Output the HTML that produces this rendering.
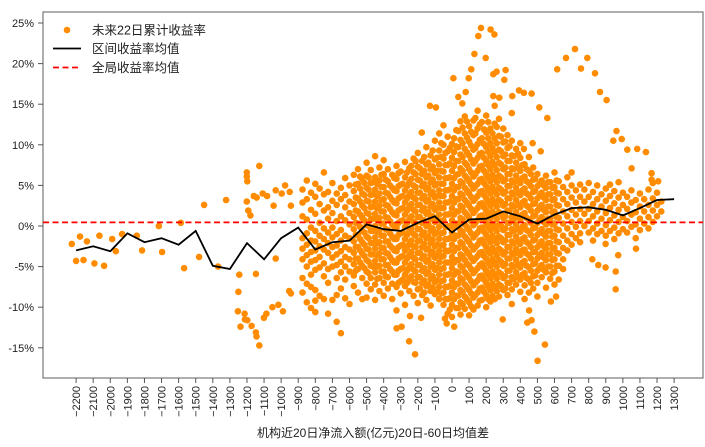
<!DOCTYPE html>
<html><head><meta charset="utf-8"><style>
html,body{margin:0;padding:0;background:#fff;}
svg{display:block;font-family:"Liberation Sans","Noto Sans CJK SC",sans-serif;}
</style></head><body>
<svg id="chart" width="705" height="447" viewBox="0 0 705 447" xmlns="http://www.w3.org/2000/svg">
<rect x="43" y="12" width="660" height="366" fill="#fff" stroke="#777" stroke-width="1.2"/>
<g id="points"></g>
<g id="lines"></g>
<g id="yticks"></g>
<g id="xticks"></g>
<text x="373" y="437" font-size="12" text-anchor="middle" fill="#222">机构近20日净流入额(亿元)20日-60日均值差</text>
<g>
<circle cx="67" cy="30" r="3.3" fill="#ff8c00"/>
<text x="92" y="34.5" font-size="12.5" fill="#222">未来22日累计收益率</text>
<line x1="53" y1="48.5" x2="81" y2="48.5" stroke="#000" stroke-width="1.8"/>
<text x="92" y="53" font-size="12.5" fill="#222">区间收益率均值</text>
<line x1="53" y1="67.5" x2="81" y2="67.5" stroke="#f00" stroke-width="1.8" stroke-dasharray="6,3.5"/>
<text x="92" y="72" font-size="12.5" fill="#222">全局收益率均值</text>
</g>
</svg>
<script>
const xTicks=[-2200,-2100,-2000,-1900,-1800,-1700,-1600,-1500,-1400,-1300,-1200,-1100,-1000,-900,-800,-700,-600,-500,-400,-300,-200,-100,0,100,200,300,400,500,600,700,800,900,1000,1100,1200,1300];
const yTicks=[25,20,15,10,5,0,-5,-10,-15];
const binX=[-2200,-2100,-2000,-1900,-1800,-1700,-1600,-1500,-1400,-1300,-1200,-1100,-1000,-900,-800,-700,-600,-500,-400,-300,-200,-100,0,100,200,300,400,500,600,700,800,900,1000,1100,1200,1300];
const binMean=[-3.0,-2.5,-3.1,-0.9,-2.0,-1.5,-2.3,-0.6,-4.9,-5.3,-2.1,-4.1,-1.5,-0.2,-2.9,-2.0,-1.8,0.2,-0.4,-0.6,0.4,1.2,-0.8,0.8,0.9,1.8,1.2,0.3,1.4,2.2,2.3,2.0,1.3,2.2,3.2,3.3];
const globalMean=0.45;
const outliers="-2225,-2.2;-2177,-1.3;-2200,-4.3;-2157,-4.2;-2137,-1.9;-2093,-4.6;-2064,-1.2;-2036,-4.9;-1989,-1.6;-1968,-3.1;-1931,-1.0;-1845,-1.2;-1814,-3.0;-1716,0;-1697,-3.2;-1587,0.4;-1568,-5.2;-1480,-3.8;-1451,2.6;-1369,-5.0;-1322,3.2;-1245,-6.0;-1250,-8.1;-1253,-10.5;-1238,-12.4;-1214,-10.8;-1198,-11.6;-1212,-11.5;-1173,-12.3;-1148,-13.1;-1144,-13.6;-1128,-14.7;-1148,-5.9;-1201,6.6;-1201,6.1;-1198,5.5;-1201,3.0;-1192,1.9;-1180,1.3;-1128,7.4;-1160,3.7;-1143,3.5;-1108,4.0;-1082,3.7;-1101,-11.3;-1086,-10.8;-1044,2.5;-1032,4.4;-1032,-4.0;-1051,-10.0;-1016,-9.7;-990,-10.5;-997,4.0;-977,5.0;-950,4.2;-943,2.5;-953,-8.0;-943,-8.3;170,24.4;226,24.2;248,23.6;154,23.4;131,21.2;197,20.7;113,19.3;98,18.2;8,18.2;80,16.5;37,15.9;60,15.1;261,19.0;314,19.2;242,18.7;306,18.0;242,16.0;277,15.8;353,16.0;392,16.7;421,16.4;466,16.3;511,14.6;558,13.3;-129,14.8;-94,14.6;-177,11.5;616,19.3;667,20.7;720,21.8;792,20.7;755,19.4;837,18.8;866,16.5;905,15.5;963,11.7;944,10.5;993,10.7;1026,9.4;1051,7.1;1084,9.5;1135,9.1;472,10.2;519,9.2;421,9.5;1168,6.5;1168,5.7;1207,5.5;501,-16.6;544,-14.6;-216,-15.8;-251,-14.2;-324,-12.6;-295,-12.4;-246,-11.1;-181,-11.3;-31,-12.0;13,-12.4;-41,-11.4;297,-11.5;441,-11.9;466,-11.6;482,-13.0;451,-10.4;609,-8.7;579,-9.3;958,-7.8;958,-5.6;973,-3.6;899,-5.1;856,-4.8;821,-4.1;1077,-2.8;899,-2.2";
const cloud="-875:4.5,2.9,1.2,-1.5,-2.8,-4.1,-6.4,-8.2|-850:5.6,3.3,0.8,-0.9,-2.3,-3.6,-5.0,-7.1,-9.4|-825:4.1,2.0,-0.2,-1.8,-3.2,-4.4,-6.0,-7.5,-10.1|-800:5.2,3.6,1.5,-0.6,-1.9,-3.0,-4.2,-5.4,-7.9,-9.2,-10.6|-775:4.6,2.7,0.4,-1.2,-2.5,-3.8,-5.1,-8.6|-750:6.6,3.9,1.9,-0.3,-1.6,-2.9,-4.6,-6.2,-9.0|-725:4.2,2.3,0.9,-0.8,-2.1,-3.3,-5.3,-7.0,-10.8|-700:5.3,3.1,1.6,-0.2,-1.4,-2.6,-3.9,-5.0,-9.1|-675:4.0,2.6,0.6,-1.0,-2.4,-3.5,-4.8,-6.4,-8.5,-11.8|-650:4.7,3.3,1.2,-0.5,-1.8,-3.1,-4.4,-5.7,-7.7,-13.2|-625:5.9,3.8,2.3,0.7,-1.2,-2.6,-3.8,-5.0,-6.6,-8.9|-600:5.0,3.0,1.6,0.2,-1.5,-2.9,-4.1,-5.6,-9.6|-575:6.3,4.3,2.7,1.1,-0.4,-1.9,-3.3,-4.7,-6.1,-7.4|-550:7.0,5.2,3.4,1.8,0.3,-1.1,-2.6,-4.0,-5.3,-8.2|-525:5.8,4.0,2.5,1.0,-0.6,-2.0,-3.4,-4.9,-6.4,-9.0|-500:7.8,6.2,4.7,3.1,1.6,0.1,-1.3,-2.8,-4.2,-5.6,-7.1,-8.8|-475:6.9,5.3,3.8,2.3,0.8,-0.6,-2.1,-3.5,-4.9,-6.4,-7.8|-450:8.6,6.0,4.5,3.0,1.5,0.0,-1.4,-2.8,-4.3,-5.7,-7.2,-9.1|-425:7.2,5.6,4.0,2.5,1.0,-0.5,-2.0,-3.4,-4.9,-6.4,-8.0|-400:8.1,6.4,4.8,3.3,1.8,0.3,-1.2,-2.7,-4.1,-5.6,-7.0,-8.6|-375:7.0,5.5,4.0,2.5,1.0,-0.5,-1.9,-3.4,-4.8,-6.3,-7.7|-350:6.3,4.7,3.2,1.7,0.2,-1.3,-2.7,-4.2,-5.6,-7.1,-9.0|-325:7.4,5.8,4.3,2.8,1.3,-0.2,-1.6,-3.1,-4.5,-6.0,-7.5,-10.4|-300:6.7,5.1,3.6,2.1,0.6,-0.9,-2.4,-3.8,-5.3,-6.8,-8.3|-275:7.9,6.0,4.4,2.9,1.4,-0.1,-1.6,-3.0,-4.5,-6.0,-7.4,-9.7|-250:7.1,5.4,3.8,2.3,0.8,-0.7,-2.2,-3.6,-5.1,-6.5,-8.0|-225:8.3,6.6,5.0,3.5,2.0,0.5,-1.0,-2.5,-3.9,-5.4,-6.9,-8.6|-200:9.0,7.3,5.7,4.1,2.6,1.1,-0.4,-1.9,-3.3,-4.8,-6.3,-7.8,-9.5|-175:8.0,6.4,4.9,3.4,1.9,0.4,-1.1,-2.6,-4.0,-5.5,-7.0,-8.5|-150:9.7,7.6,6.0,4.5,3.0,1.5,0.0,-1.5,-2.9,-4.4,-5.9,-7.4,-9.1|-125:8.7,7.0,5.4,3.9,2.4,0.9,-0.6,-2.1,-3.5,-5.0,-6.5,-8.0,-9.8|-100:10.5,8.2,6.5,5.0,3.5,2.0,0.5,-1.0,-2.5,-3.9,-5.4,-6.9,-8.4|-75:11.4,9.3,7.6,6.0,4.4,2.9,1.4,-0.1,-1.6,-3.1,-4.5,-6.0,-7.5,-9.0|-50:12.4,10.0,8.3,6.7,5.2,3.7,2.2,0.7,-0.8,-2.3,-3.7,-5.2,-6.7,-8.2,-9.7|-25:11.0,9.2,7.5,5.9,4.4,2.9,1.4,-0.1,-1.6,-3.1,-4.5,-6.0,-7.5,-9.0,-10.8|0:10.1,8.4,6.8,5.2,3.7,2.2,0.7,-0.8,-2.3,-3.8,-5.2,-6.7,-8.2,-9.7,-11.2|25:11.8,9.8,8.0,6.3,4.8,3.3,1.8,0.3,-1.2,-2.7,-4.2,-5.6,-7.1,-8.6,-10.1|50:12.9,10.6,8.8,7.1,5.5,4.0,2.5,1.0,-0.5,-2.0,-3.5,-4.9,-6.4,-7.9,-9.4,-10.9|75:13.5,11.4,9.5,7.8,6.2,4.7,3.2,1.7,0.2,-1.3,-2.8,-4.2,-5.7,-7.2,-8.7,-10.2|100:12.3,10.4,8.7,7.0,5.5,4.0,2.5,1.0,-0.5,-2.0,-3.5,-4.9,-6.4,-7.9,-9.4,-11.0|125:13.0,11.2,9.4,7.7,6.1,4.6,3.1,1.6,0.1,-1.4,-2.9,-4.3,-5.8,-7.3,-8.8,-10.3|150:14.2,12.0,10.1,8.4,6.8,5.2,3.7,2.2,0.7,-0.8,-2.3,-3.7,-5.2,-6.7,-8.2,-9.8|175:12.8,10.8,9.0,7.4,5.8,4.3,2.8,1.3,-0.2,-1.7,-3.2,-4.6,-6.1,-7.6,-9.1|200:13.6,11.5,9.7,8.0,6.4,4.9,3.4,1.9,0.4,-1.1,-2.6,-4.0,-5.5,-7.0,-8.5,-10.0|225:12.0,10.2,8.6,7.0,5.5,4.0,2.5,1.0,-0.5,-2.0,-3.4,-4.9,-6.4,-7.9,-9.3|250:14.8,12.6,10.8,9.1,7.5,5.9,4.4,2.9,1.4,-0.1,-1.6,-3.1,-4.5,-6.0,-7.5,-9.0|275:13.2,11.1,9.4,7.8,6.2,4.7,3.2,1.7,0.2,-1.3,-2.8,-4.2,-5.7,-7.2,-8.7|300:12.0,10.3,8.6,7.0,5.5,4.0,2.5,1.0,-0.5,-2.0,-3.5,-4.9,-6.4,-7.9|325:11.2,9.6,8.0,6.4,4.9,3.4,1.9,0.4,-1.1,-2.6,-4.0,-5.5,-7.0,-8.5|350:13.9,10.5,8.7,7.1,5.6,4.1,2.6,1.1,-0.4,-1.9,-3.3,-4.8,-6.3,-7.8,-9.6|375:9.5,7.8,6.2,4.7,3.2,1.7,0.2,-1.3,-2.8,-4.2,-5.7,-7.2|400:10.2,8.4,6.8,5.3,3.8,2.3,0.8,-0.7,-2.2,-3.6,-5.1,-6.6,-8.1|425:7.6,6.1,4.6,3.1,1.6,0.1,-1.4,-2.9,-4.3,-5.8,-7.3,-9.0|450:8.5,6.8,5.3,3.8,2.3,0.8,-0.7,-2.2,-3.6,-5.1,-6.6,-8.2|475:7.2,5.7,4.2,2.7,1.2,-0.3,-1.8,-3.2,-4.7,-6.2,-7.7|500:6.4,4.9,3.4,1.9,0.4,-1.1,-2.6,-4.0,-5.5,-7.0,-8.7|525:5.6,4.1,2.6,1.1,-0.4,-1.9,-3.3,-4.8,-6.3|550:6.2,4.7,3.2,1.7,0.2,-1.3,-2.8,-4.2,-5.7,-7.6|575:5.4,3.9,2.4,0.9,-0.6,-2.1,-3.5,-5.0,-6.5|600:6.6,4.8,3.3,1.8,0.3,-1.2,-2.7,-4.1,-5.6,-7.2|625:5.5,4.0,2.5,1.0,-0.5,-2.0,-3.4,-4.9,-6.6|650:4.8,3.3,1.8,0.3,-1.2,-2.7,-4.1,-5.3|675:6.0,4.2,2.7,1.2,-0.3,-1.8,-3.0|700:6.6,5.0,3.5,2.0,0.5,-1.0,-2.3|725:4.4,2.9,1.4,-0.1,-1.5|750:5.1,3.6,2.1,0.6,-0.9,-2.0|775:4.5,3.0,1.5,0.0|800:5.3,3.6,2.1,0.6,-0.8|825:4.2,2.7,1.2,-0.3,-1.8|850:5.0,3.3,1.8,0.3,-1.0|875:3.9,2.4,0.9,-0.6|900:4.6,3.1,1.6,0.1,-1.2|925:5.1,3.7,2.2,0.7,-0.6|950:4.3,2.8,1.3,-0.2,-1.6|975:5.4,3.5,2.0,0.5,-0.9|1000:4.1,2.6,1.1,-0.4|1025:3.6,2.1,0.6,-0.8|1050:4.4,2.9,1.4,-0.1|1075:3.2,1.7,0.2,-1.5|1100:4.0,2.4,0.9,-0.5|1125:3.3,1.8,0.3|1150:4.5,2.6,1.1,-0.3|1175:5.3,3.4,1.9,0.5|1200:4.1,2.6,1.2|1225:3.0,1.8";
const cloudCore="-438:5.2,3.7,2.2,0.8,-0.7,-2.1,-3.6,-5.0,-6.5|-413:6.3,4.8,3.2,1.8,0.3,-1.2,-2.7,-4.1,-5.6|-388:5.7,4.1,2.6,1.1,-0.4,-1.9,-3.3,-4.8,-6.2|-363:5.0,3.6,2.1,0.6,-0.9,-2.4,-3.8,-5.3|-338:5.9,4.4,2.9,1.4,-0.1,-1.6,-3.0,-4.5,-6.0|-313:6.5,4.9,3.4,1.9,0.4,-1.1,-2.6,-4.0,-5.5,-7.0|-288:5.2,3.7,2.2,0.7,-0.8,-2.3,-3.7,-5.2,-6.6|-263:6.6,4.9,3.4,1.9,0.4,-1.1,-2.6,-4.0,-5.5,-7.0|-238:7.4,5.8,4.2,2.7,1.2,-0.3,-1.8,-3.2,-4.7,-6.2|-213:8.0,6.4,4.8,3.3,1.8,0.3,-1.2,-2.6,-4.1,-5.6,-7.0|-188:7.1,5.6,4.1,2.6,1.1,-0.4,-1.8,-3.3,-4.8,-6.3,-7.7|-163:8.5,6.8,5.2,3.7,2.2,0.7,-0.8,-2.2,-3.7,-5.2,-6.7,-8.2|-138:7.8,6.2,4.7,3.2,1.7,0.2,-1.3,-2.8,-4.2,-5.7,-7.2|-113:9.3,7.3,5.7,4.2,2.7,1.2,-0.3,-1.7,-3.2,-4.7,-6.2,-7.6|-88:8.4,6.8,5.2,3.7,2.2,0.7,-0.8,-2.3,-3.7,-5.2,-6.7,-8.1|-63:10.2,8.5,6.8,5.2,3.7,2.2,0.6,-0.9,-2.4,-3.8,-5.3,-6.8,-8.3|-38:9.0,7.5,5.9,4.4,2.9,1.4,-0.1,-1.6,-3.0,-4.5,-6.0,-7.5,-9.0|-13:9.6,7.7,6.0,4.5,3.0,1.5,-0.0,-1.5,-3.0,-4.5,-5.9,-7.4,-8.9,-10.3|12:10.8,9.1,7.4,5.9,4.4,2.9,1.4,-0.1,-1.6,-3.1,-4.5,-6.0,-7.5,-9.0|37:11.7,9.7,8.0,6.4,4.8,3.3,1.8,0.3,-1.2,-2.7,-4.2,-5.7,-7.1,-8.6,-10.1|62:12.1,10.2,8.5,6.8,5.3,3.8,2.3,0.8,-0.7,-2.2,-3.7,-5.1,-6.6,-8.1,-9.6|87:12.9,10.9,9.1,7.5,5.9,4.4,2.9,1.4,-0.1,-1.6,-3.1,-4.6,-6.0,-7.5,-9.0|112:11.6,9.9,8.2,6.6,5.1,3.6,2.1,0.6,-0.9,-2.4,-3.9,-5.3,-6.8,-8.3,-9.9|137:13.3,11.4,9.6,8.0,6.4,4.9,3.4,1.9,0.4,-1.1,-2.6,-4.0,-5.5,-7.0,-8.5|162:12.5,10.6,8.9,7.3,5.7,4.2,2.7,1.2,-0.3,-1.8,-3.3,-4.8,-6.2,-7.7,-9.2|187:11.9,10.1,8.4,6.8,5.3,3.8,2.3,0.8,-0.7,-2.2,-3.7,-5.1,-6.6,-8.1|212:12.8,10.8,9.1,7.5,5.9,4.4,2.9,1.4,-0.1,-1.6,-3.1,-4.5,-6.0,-7.5,-9.0|237:11.4,9.6,7.9,6.3,4.8,3.3,1.8,0.3,-1.2,-2.7,-4.1,-5.6,-7.1,-8.6|262:12.2,10.2,8.5,6.9,5.4,3.9,2.4,0.9,-0.6,-2.1,-3.6,-5.0,-6.5,-8.0|287:11.0,9.2,7.6,6.0,4.5,3.0,1.5,0.0,-1.5,-3.0,-4.4,-5.9,-7.4|312:10.4,8.8,7.2,5.7,4.2,2.7,1.2,-0.3,-1.8,-3.2,-4.7,-6.2,-7.7|337:9.8,8.0,6.4,4.9,3.4,1.9,0.4,-1.1,-2.6,-4.0,-5.5,-7.0|362:8.6,7.0,5.4,3.9,2.4,0.9,-0.6,-2.1,-3.5,-5.0,-6.5|387:8.9,7.2,5.6,4.1,2.6,1.1,-0.4,-1.9,-3.3,-4.8,-6.3|412:7.5,5.9,4.4,2.9,1.4,-0.1,-1.6,-3.0,-4.5,-6.0|437:7.0,5.5,4.0,2.5,1.0,-0.5,-2.0,-3.4,-4.9,-6.4|462:6.4,4.9,3.4,1.9,0.4,-1.1,-2.6,-4.0,-5.5,-7.0|487:5.8,4.3,2.8,1.3,-0.2,-1.7,-3.2,-4.6,-6.1|512:5.2,3.7,2.2,0.7,-0.8,-2.3,-3.7,-5.2|537:5.0,3.5,2.0,0.5,-1.0,-2.5,-3.9,-5.4|562:5.4,3.9,2.4,0.9,-0.6,-2.1,-3.5,-5.0|587:4.7,3.2,1.7,0.2,-1.3,-2.8,-4.2,-5.8|612:5.6,4.1,2.6,1.1,-0.4,-1.9,-3.3,-4.9|-563:5.1,3.5,1.9,0.4,-1.1,-2.6,-4.0,-5.5|-538:6.1,4.6,3.0,1.4,-0.1,-1.6,-3.0,-4.5|-513:5.3,3.8,2.2,0.7,-0.8,-2.3,-3.7,-5.2|-488:6.0,4.5,3.0,1.5,0.0,-1.5,-2.9,-4.4,-5.8|-463:5.4,3.9,2.4,0.9,-0.6,-2.1,-3.5,-5.0";

const NS="http://www.w3.org/2000/svg";
const sx=v=>452+v*(598/3500);
const sy=v=>226-v*8.12;
function mk(tag,attrs,parent){const e=document.createElementNS(NS,tag);for(const k in attrs)e.setAttribute(k,attrs[k]);parent.appendChild(e);return e;}

const ptsX=[],ptsY=[];
outliers.split(";").forEach(p=>{const a=p.split(",");ptsX.push(+a[0]);ptsY.push(+a[1]);});
[cloud,cloudCore].forEach(s=>s.split("|").forEach(col=>{const [x,ys]=col.split(":");ys.split(",").forEach(y=>{ptsX.push(+x);ptsY.push(+y);});}));

const gp=document.getElementById("points");
for(let i=0;i<ptsX.length;i++){
  const c=mk("circle",{cx:sx(ptsX[i]).toFixed(1),cy:sy(ptsY[i]).toFixed(1),r:3.3,fill:"#ff8c00"},gp);
  
  
}
const gl=document.getElementById("lines");
const gm=mk("line",{x1:43,x2:703,y1:sy(globalMean),y2:sy(globalMean),stroke:"#f00","stroke-width":1.8,"stroke-dasharray":"6,3.5"},gl);


const pl=mk("polyline",{points:binX.map((x,i)=>sx(x).toFixed(1)+","+sy(binMean[i]).toFixed(1)).join(" "),fill:"none",stroke:"#000","stroke-width":1.8},gl);



const gy=document.getElementById("yticks");
yTicks.forEach(v=>{
  const t=mk("line",{x1:38,x2:43,y1:sy(v),y2:sy(v),stroke:"#555"},gy);
  
  
  const l=mk("text",{x:34,y:sy(v)+4,"font-size":11,"text-anchor":"end",fill:"#222"},gy);
  l.textContent=v+"%";
  
  
});
const gx=document.getElementById("xticks");
xTicks.forEach(v=>{
  const x=sx(v);
  const t=mk("line",{x1:x,x2:x,y1:378,y2:383,stroke:"#555"},gx);
  
  
  const l=mk("text",{x:0,y:0,"font-size":11,"text-anchor":"end",fill:"#222",transform:"translate("+(x+4)+",386) rotate(-90)"},gx);
  l.textContent=String(v).replace("-","\u2212");
  
  
});
</script>
</body></html>
